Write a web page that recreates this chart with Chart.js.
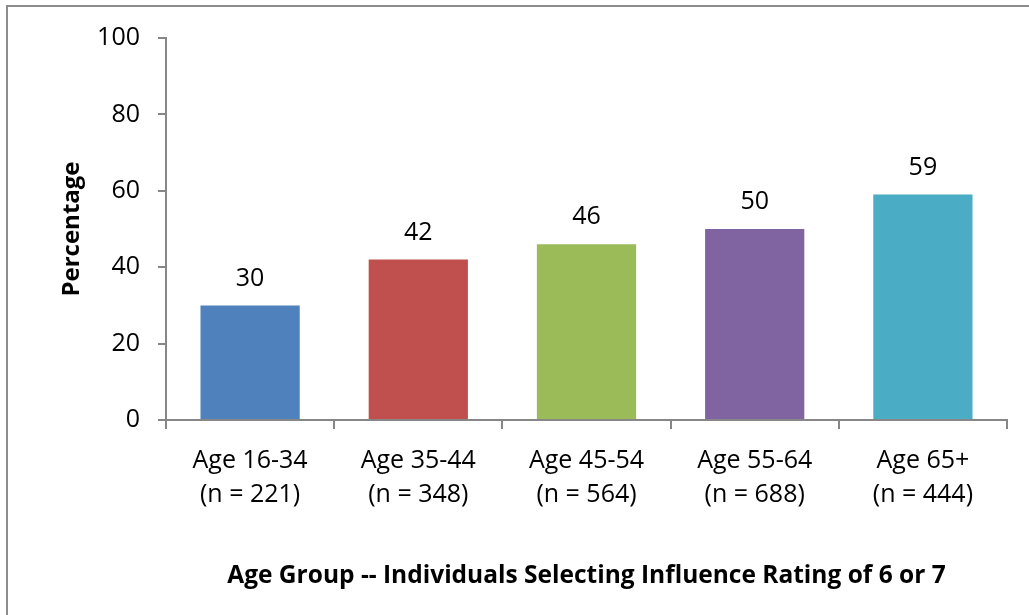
<!DOCTYPE html>
<html>
<head>
<meta charset="utf-8">
<script src="https://cdn.jsdelivr.net/npm/chart.js@4/dist/chart.umd.min.js"></script>
<style>
  html, body { margin: 0; padding: 0; background: #ffffff; }
  #wrap { width: 1029px; height: 615px; position: relative; }
</style>
</head>
<body>
<div id="wrap"><canvas id="c" width="1029" height="615"></canvas></div>
<script>
const categories = [
  ["Age 16-34", "(n = 221)"],
  ["Age 35-44", "(n = 348)"],
  ["Age 45-54", "(n = 564)"],
  ["Age 55-64", "(n = 688)"],
  ["Age 65+", "(n = 444)"]
];
const percentages = [30, 42, 46, 50, 59];
const barColors = ["#4F81BD", "#C0504D", "#9BBB59", "#8064A2", "#4BACC6"];
const yTitle = "Percentage";
const xTitle = "Age Group -- Individuals Selecting Influence Rating of 6 or 7";

const FONT = "'Open Sans', Lato, sans-serif";
const AXIS = "#878787";

const frame = {
  id: "frame",
  beforeDraw(chart) {
    const ctx = chart.ctx;
    ctx.save();
    ctx.fillStyle = "#ffffff";
    ctx.fillRect(0, 0, chart.width, chart.height);
    ctx.strokeStyle = "#8c8c8c";
    ctx.lineWidth = 2;
    ctx.beginPath();
    ctx.moveTo(7, chart.height);
    ctx.lineTo(7, 6);
    ctx.lineTo(chart.width, 6);
    ctx.stroke();
    ctx.restore();
  }
};

const valueLabels = {
  id: "valueLabels",
  afterDatasetsDraw(chart) {
    const ctx = chart.ctx;
    const meta = chart.getDatasetMeta(0);
    ctx.save();
    ctx.font = "25px " + FONT;
    ctx.fillStyle = "#000000";
    ctx.textAlign = "center";
    ctx.textBaseline = "middle";
    meta.data.forEach((bar, i) => {
      ctx.fillText(String(chart.data.datasets[0].data[i]), bar.x, bar.y - 27);
    });
    ctx.restore();
  }
};

new Chart(document.getElementById("c"), {
  type: "bar",
  data: {
    labels: categories,
    datasets: [{
      data: percentages,
      backgroundColor: barColors,
      borderWidth: 0,
      barPercentage: 0.59,
      categoryPercentage: 1.0
    }]
  },
  options: {
    responsive: false,
    animation: false,
    devicePixelRatio: 1,
    layout: { padding: { left: 0, right: 22, top: 38, bottom: 0 } },
    plugins: {
      legend: { display: false },
      tooltip: { enabled: false },
      title: { display: false }
    },
    scales: {
      x: {
        afterFit(scale) { scale.height = 195; },
        grid: {
          display: true,
          drawOnChartArea: false,
          drawTicks: true,
          tickLength: 9,
          color: AXIS,
          lineWidth: 2,
          offset: true
        },
        border: { display: true, color: AXIS, width: 2 },
        ticks: {
          color: "#000000",
          font: { family: FONT, size: 25, lineHeight: 1.36 },
          padding: 15,
          maxRotation: 0,
          autoSkip: false
        },
        title: {
          display: true,
          text: xTitle,
          color: "#000000",
          font: { family: FONT, size: 24.5, weight: "bold", lineHeight: 1.2 },
          padding: { top: 0, bottom: 24 }
        }
      },
      y: {
        min: 0,
        max: 100,
        afterFit(scale) { scale.width = 166; },
        grid: {
          display: true,
          drawOnChartArea: false,
          drawTicks: true,
          tickLength: 8,
          color: AXIS,
          lineWidth: 2
        },
        border: { display: true, color: AXIS, width: 2 },
        ticks: {
          stepSize: 20,
          color: "#000000",
          font: { family: FONT, size: 25 },
          padding: 18
        },
        title: {
          display: true,
          text: yTitle,
          color: "#000000",
          font: { family: FONT, size: 24, weight: "bold", lineHeight: 1.2 },
          padding: { top: 58, bottom: 0 }
        }
      }
    }
  },
  plugins: [frame, valueLabels]
});
</script>
</body>
</html>
